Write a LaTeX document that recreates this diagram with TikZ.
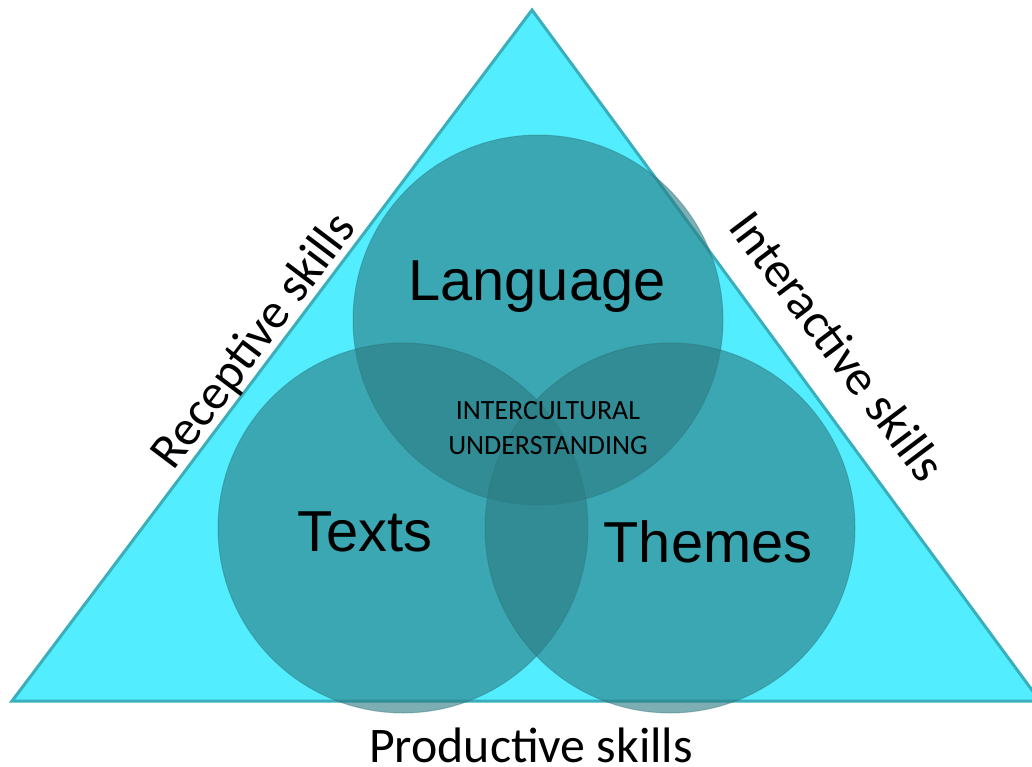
\documentclass[tikz,border=0pt]{standalone}
\usepackage{fontspec}
\setmainfont{Liberation Sans}
\newfontfamily\calib{Carlito}
\definecolor{triFill}{HTML}{52EEFF}
\definecolor{triEdge}{HTML}{3AAFBB}
\definecolor{ringFill}{HTML}{2C7C84}
\definecolor{ringEdge}{HTML}{2A6E74}
\begin{document}
\begin{tikzpicture}[x=1bp,y=-1bp,
  area/.style={fill=triFill,draw=triEdge,line width=3bp,line join=miter},
  ring/.style={circle,minimum size=370bp,inner sep=0pt,fill=ringFill,fill opacity=0.62,draw=ringEdge,draw opacity=0.35,line width=1bp},
  big/.style={font=\fontsize{58}{60}\selectfont,text=black},
  side/.style={font=\calib\fontsize{50}{52}\selectfont,text=black,inner sep=0pt},
  core/.style={font=\calib\fontsize{28}{36}\selectfont,text=black,align=center,inner sep=0pt}]
\useasboundingbox (0,0) rectangle (1032,767);
% outer triangle
\coordinate (apex) at (532,10);
\coordinate (bl) at (12,701);
\coordinate (br) at (1040,701);
\draw[area] (bl) -- (apex) -- (br) -- cycle;
% three overlapping circles
\node[ring] (lang) at (538,320) {};
\node[ring] (texts) at (403,528) {};
\node[ring] (themes) at (670,528) {};
% circle labels
\node[big] (langlbl) at (537,287) {Language};
\node[big] (textslbl) at (365,532) {Texts};
\node[big] (themeslbl) at (708,542) {Themes};
\node[core] (icu) at (548,428) {INTERCULTURAL\\UNDERSTANDING};
% skills along the sides
\node[side,rotate=53] (rec) at (255,342) {Receptive skills};
\node[side,rotate=-53] (int) at (838,346) {Interactive skills};
\node[side] (prod) at (531,745) {Productive skills};
\end{tikzpicture}
\end{document}
